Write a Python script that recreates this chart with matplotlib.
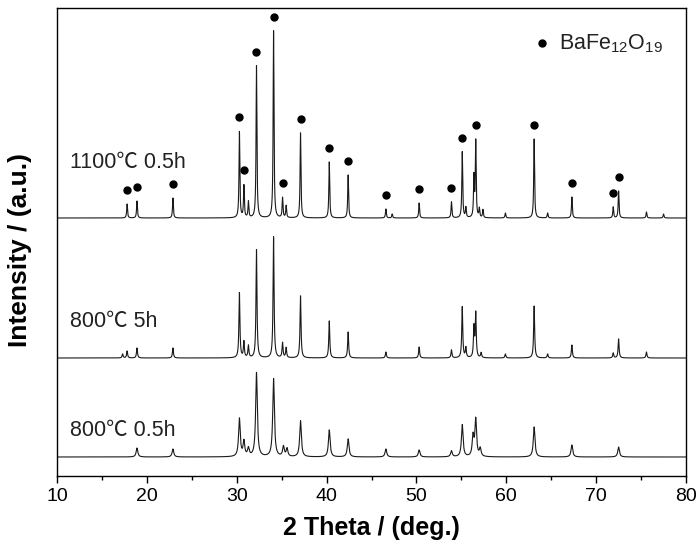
import numpy as np
import matplotlib.pyplot as plt
from matplotlib.ticker import MultipleLocator

plt.rcParams['font.family'] = ['Liberation Sans', 'Noto Sans CJK SC', 'DejaVu Sans']
plt.rcParams['mathtext.fontset'] = 'custom'
plt.rcParams['mathtext.rm'] = 'Liberation Sans'

# peak positions (2theta, deg) and heights (a.u.)
pos_1100 = [17.8, 18.9, 22.9, 30.3, 30.8, 31.3, 32.2, 34.1, 35.1, 35.5, 37.1, 40.3, 42.4,
            46.6, 47.3, 50.3, 53.9, 55.1, 55.5, 56.4, 56.6, 57.0, 57.4, 59.9, 63.1, 64.6,
            67.3, 71.9, 72.5, 75.6, 77.5]
hgt_1100 = [14, 17, 20, 86, 32, 16, 152, 187, 20, 12, 85, 56, 43,
            9, 4, 15, 16, 66, 10, 40, 76, 9, 8, 5, 79, 5,
            21, 11, 27, 6, 4]

pos_800_5 = [17.3, 17.8, 18.9, 22.9, 30.3, 30.8, 31.3, 32.2, 34.1, 35.1, 35.5, 37.1, 40.3,
             42.4, 46.6, 50.3, 53.9, 55.1, 55.5, 56.4, 56.6, 57.2, 59.9, 63.1, 64.6, 67.3,
             71.9, 72.5, 75.6]
hgt_800_5 = [4, 7, 10, 10, 65, 16, 12, 108, 121, 15, 10, 62, 37,
             26, 6, 11, 8, 51, 10, 30, 44, 5, 4, 52, 4, 13,
             5, 19, 6]

pos_800_05 = [18.9, 22.9, 30.3, 30.8, 31.3, 32.2, 34.1, 35.2, 35.6, 37.1, 40.3, 42.4, 46.6,
              50.3, 53.9, 55.1, 56.3, 56.6, 57.1, 63.1, 67.3, 72.5]
hgt_800_05 = [9, 8, 38, 15, 8, 84, 78, 10, 8, 36, 27, 18, 8,
              7, 6, 32, 20, 37, 8, 30, 12, 10]

# BaFe12O19 reflections marked on the top pattern
marks = [17.8, 18.9, 22.9, 30.3, 30.8, 32.2, 34.1, 35.1, 37.1, 40.3, 42.4, 46.6,
         50.3, 53.9, 55.1, 56.6, 63.1, 67.3, 71.9, 72.5]

offsets = [258, 118, 19]
widths = [0.11, 0.13, 0.22]
labels = ['1100\u2103 0.5h', '800\u2103 5h', '800\u2103 0.5h']
label_y = [313, 154, 45]

x = np.arange(10, 80.001, 0.01)


def pattern(pos, hgt, w):
    y = np.zeros_like(x)
    for p, h in zip(pos, hgt):
        y += h / (1 + ((x - p) / (w / 2)) ** 2)
    return y


fig = plt.figure(figsize=(6.97, 5.52), dpi=100)
ax = fig.add_axes([0.0818, 0.1377, 0.9024, 0.8478])

series = [(pos_1100, hgt_1100), (pos_800_5, hgt_800_5), (pos_800_05, hgt_800_05)]
curves = []
for (pos, hgt), off, w in zip(series, offsets, widths):
    y = pattern(pos, hgt, w) + off
    curves.append(y)
    ax.plot(x, y, color='#1a1a1a', lw=0.8)

# dots above the peaks of the top pattern
top = curves[0]
dot_y = [top[(x > m - 0.15) & (x < m + 0.15)].max() + 14 for m in marks]
ax.plot(marks, dot_y, 'o', color='black', ms=5, ls='none')

for lab, ly in zip(labels, label_y):
    ax.text(11.4, ly, lab, fontsize=15.5, color='#222222', va='center', ha='left')

# legend
ax.plot([64.0], [433], 'o', color='black', ms=5)
ax.text(65.9, 432, r'$\mathrm{BaFe}_{12}\mathrm{O}_{19}$', fontsize=15.5, va='center',
        ha='left', color='#222222')

ax.set_xlim(10, 80)
ax.set_ylim(0, 468)
ax.xaxis.set_major_locator(MultipleLocator(10))
ax.xaxis.set_minor_locator(MultipleLocator(5))
ax.tick_params(axis='x', which='major', direction='out', length=5, width=1, labelsize=14)
ax.tick_params(axis='x', which='minor', direction='out', length=3, width=1)
ax.set_yticks([])
for s in ax.spines.values():
    s.set_linewidth(1.0)

ax.set_xlabel('2 Theta / (deg.)', fontsize=18, fontweight='bold', labelpad=8)
ax.set_ylabel('Intensity / (a.u.)', fontsize=19, fontweight='bold')
ax.yaxis.set_label_coords(-0.04, 0.483)

fig.savefig('out.png', dpi=100)
